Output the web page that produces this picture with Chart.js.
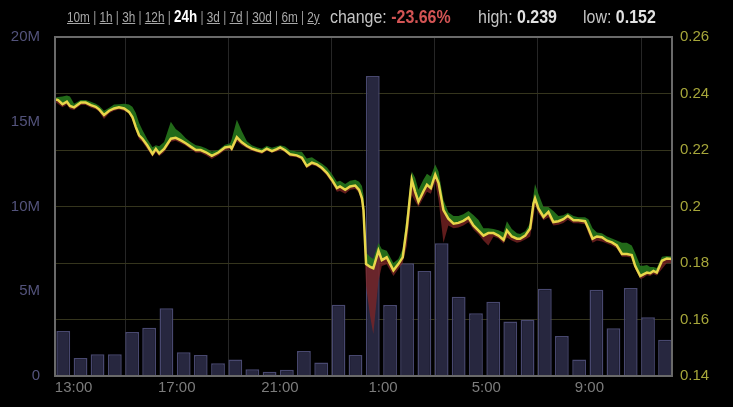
<!DOCTYPE html>
<html>
<head>
<meta charset="utf-8">
<script src="https://cdn.jsdelivr.net/npm/chart.js@4.4.0/dist/chart.umd.min.js"></script>
<style>
    html, body { margin: 0; padding: 0; background: #000; }
    #wrap { position: relative; width: 733px; height: 407px; overflow: hidden; }
    #price_chart { position: absolute; left: 0; top: 0; }
    .head { position: absolute; white-space: nowrap; font-family: 'Liberation Sans', Arial, sans-serif; color: #c4c4c4; transform-origin: 0 0; }
    .ranges { top: 10px; font-size: 14px; line-height: 14px; color: #9a9a9a; transform: scaleX(0.84); }
    .ranges a { color: #a8a8a8; text-decoration: underline; }
    .ranges b { color: #fff; font-size: 16px; }
    .stat { top: 6px; font-size: 19px; line-height: 21px; transform: scaleX(0.84); }
    .stat b { color: #e2e2e2; }
    .stat b.neg { color: #d35454; }
</style>
</head>
<body>
<div id="wrap">
    <canvas id="price_chart" width="733" height="407"></canvas>
    <div class="head ranges" style="left:67px"><a>10m</a> | <a>1h</a> | <a>3h</a> | <a>12h</a> | <b>24h</b> | <a>3d</a> | <a>7d</a> | <a>30d</a> | <a>6m</a> | <a>2y</a></div>
    <div class="head stat" style="left:330px">change: <b class="neg">-23.66%</b></div>
    <div class="head stat" style="left:478px">high: <b>0.239</b></div>
    <div class="head stat" style="left:583px">low: <b>0.152</b></div>
</div>
<script>
// hours since midnight of the first day (25 = 1:00 next day)
const priceTimes = [
    12.32, 12.40, 12.57, 12.74, 12.86, 13.02, 13.28, 13.47, 13.67, 13.86,
    13.99, 14.18, 14.38, 14.57, 14.76, 14.96, 15.15, 15.28, 15.41, 15.54,
    15.67, 15.86, 16.06, 16.19, 16.32, 16.51, 16.77, 16.96, 17.16, 17.35,
    17.54, 17.74, 17.93, 18.13, 18.36, 18.61, 18.87, 19.07, 19.13, 19.33,
    19.52, 19.72, 19.91, 20.10, 20.30, 20.49, 20.69, 20.88, 21.01, 21.20,
    21.39, 21.65, 21.85, 22.04, 22.24, 22.43, 22.62, 22.82, 23.01, 23.21,
    23.33, 23.53, 23.72, 23.92, 24.07, 24.18, 24.24, 24.34, 24.50, 24.62,
    24.82, 24.95, 25.14, 25.40, 25.59, 25.76, 25.92, 26.11, 26.24, 26.37,
    26.56, 26.70, 26.85, 27.02, 27.15, 27.34, 27.53, 27.73, 27.92, 28.11,
    28.31, 28.50, 28.70, 28.89, 29.08, 29.28, 29.47, 29.67, 29.80, 29.99,
    30.19, 30.31, 30.51, 30.70, 30.83, 30.89, 31.02, 31.22, 31.41, 31.60,
    31.80, 31.99, 32.16, 32.38, 32.57, 32.83, 32.96, 33.12, 33.29, 33.48,
    33.68, 33.87, 34.06, 34.26, 34.45, 34.64, 34.77, 34.97, 35.09, 35.23,
    35.35, 35.48, 35.61, 35.81, 36.00, 36.20
];
const priceValues = [
    0.2379, 0.2377, 0.2362, 0.2371, 0.2356, 0.2351, 0.2368, 0.2368, 0.2359, 0.2353,
    0.2344, 0.2324, 0.2339, 0.2347, 0.2351, 0.2347, 0.2335, 0.2317, 0.2282, 0.2252,
    0.2240, 0.2216, 0.2186, 0.2204, 0.2188, 0.2204, 0.2240, 0.2243, 0.2234, 0.2224,
    0.2212, 0.2200, 0.2200, 0.2192, 0.2179, 0.2191, 0.2209, 0.2212, 0.2205, 0.2245,
    0.2227, 0.2214, 0.2205, 0.2199, 0.2194, 0.2205, 0.2196, 0.2203, 0.2209, 0.2199,
    0.2185, 0.2181, 0.2173, 0.2143, 0.2155, 0.2149, 0.2137, 0.2119, 0.2095, 0.2065,
    0.2071, 0.2059, 0.2071, 0.2074, 0.2059, 0.2029, 0.1987, 0.1796, 0.1786, 0.1781,
    0.1844, 0.1810, 0.1820, 0.1774, 0.1796, 0.1820, 0.1927, 0.2095, 0.2053, 0.2017,
    0.2053, 0.2077, 0.2065, 0.2113, 0.2083, 0.1987, 0.1957, 0.1939, 0.1942, 0.1949,
    0.1961, 0.1933, 0.1915, 0.1897, 0.1906, 0.1906, 0.1897, 0.1882, 0.1915, 0.1894,
    0.1886, 0.1886, 0.1897, 0.1922, 0.2011, 0.2029, 0.1993, 0.1963, 0.1981, 0.1945,
    0.1948, 0.1955, 0.1967, 0.1951, 0.1951, 0.1948, 0.1922, 0.1886, 0.1894, 0.1891,
    0.1879, 0.1873, 0.1862, 0.1832, 0.1832, 0.1828, 0.1790, 0.1754, 0.1760, 0.1766,
    0.1764, 0.1772, 0.1766, 0.1808, 0.1816, 0.1814
];
const highValues = [
    0.2386, 0.2388, 0.2389, 0.2393, 0.2389, 0.2364, 0.2377, 0.2377, 0.2371, 0.2364,
    0.2357, 0.2339, 0.2350, 0.2361, 0.2362, 0.2364, 0.2361, 0.2353, 0.2332, 0.2296,
    0.2271, 0.2238, 0.2210, 0.2217, 0.2213, 0.2228, 0.2300, 0.2274, 0.2260, 0.2242,
    0.2228, 0.2217, 0.2213, 0.2206, 0.2195, 0.2200, 0.2219, 0.2224, 0.2238, 0.2307,
    0.2267, 0.2231, 0.2217, 0.2210, 0.2204, 0.2215, 0.2208, 0.2213, 0.2217, 0.2212,
    0.2199, 0.2195, 0.2194, 0.2170, 0.2174, 0.2163, 0.2152, 0.2138, 0.2116, 0.2088,
    0.2091, 0.2080, 0.2091, 0.2095, 0.2088, 0.2073, 0.2041, 0.1836, 0.1821, 0.1814,
    0.1871, 0.1850, 0.1843, 0.1800, 0.1814, 0.1850, 0.1969, 0.2124, 0.2102, 0.2059,
    0.2095, 0.2116, 0.2106, 0.2149, 0.2124, 0.2023, 0.1980, 0.1966, 0.1966, 0.1973,
    0.1984, 0.1970, 0.1952, 0.1923, 0.1923, 0.1920, 0.1916, 0.1908, 0.1948, 0.1920,
    0.1905, 0.1903, 0.1912, 0.1941, 0.2041, 0.2080, 0.2045, 0.1998, 0.1998, 0.1984,
    0.1966, 0.1969, 0.1978, 0.1966, 0.1962, 0.1962, 0.1955, 0.1923, 0.1908, 0.1905,
    0.1894, 0.1887, 0.1880, 0.1872, 0.1872, 0.1862, 0.1836, 0.1790, 0.1790, 0.1793,
    0.1786, 0.1786, 0.1782, 0.1822, 0.1825, 0.1823
];
const lowValues = [
    0.2368, 0.2363, 0.2351, 0.2360, 0.2345, 0.2342, 0.2359, 0.2359, 0.2350, 0.2344,
    0.2335, 0.2310, 0.2330, 0.2339, 0.2343, 0.2339, 0.2328, 0.2307, 0.2271, 0.2238,
    0.2228, 0.2203, 0.2176, 0.2192, 0.2178, 0.2192, 0.2229, 0.2233, 0.2224, 0.2215,
    0.2203, 0.2190, 0.2190, 0.2181, 0.2168, 0.2181, 0.2199, 0.2203, 0.2195, 0.2231,
    0.2217, 0.2206, 0.2197, 0.2192, 0.2186, 0.2197, 0.2190, 0.2195, 0.2201, 0.2192,
    0.2177, 0.2174, 0.2165, 0.2135, 0.2147, 0.2142, 0.2129, 0.2109, 0.2084, 0.2052,
    0.2055, 0.2045, 0.2059, 0.2062, 0.2048, 0.2012, 0.1933, 0.1718, 0.1610, 0.1549,
    0.1736, 0.1789, 0.1796, 0.1754, 0.1779, 0.1800, 0.1861, 0.2041, 0.2019, 0.1998,
    0.2030, 0.2052, 0.2045, 0.2088, 0.2023, 0.1872, 0.1933, 0.1923, 0.1926, 0.1933,
    0.1944, 0.1919, 0.1901, 0.1880, 0.1862, 0.1894, 0.1887, 0.1869, 0.1890, 0.1880,
    0.1872, 0.1874, 0.1883, 0.1894, 0.1958, 0.2005, 0.1976, 0.1951, 0.1962, 0.1933,
    0.1935, 0.1942, 0.1953, 0.1941, 0.1941, 0.1937, 0.1904, 0.1872, 0.1880, 0.1876,
    0.1869, 0.1862, 0.1851, 0.1822, 0.1822, 0.1819, 0.1779, 0.1743, 0.1747, 0.1757,
    0.1754, 0.1761, 0.1756, 0.1779, 0.1800, 0.1800
];
const volumeTimes = [
    12.60, 13.27, 13.93, 14.60, 15.27, 15.93, 16.60, 17.27, 17.93, 18.60,
    19.27, 19.93, 20.60, 21.27, 21.93, 22.60, 23.27, 23.93, 24.60, 25.27,
    25.93, 26.60, 27.27, 27.93, 28.60, 29.27, 29.93, 30.60, 31.27, 31.93,
    32.60, 33.27, 33.93, 34.60, 35.27, 35.93
];
// millions
const volumeValues = [
    2.65, 1.06, 1.28, 1.28, 2.60, 2.85, 4.00, 1.40, 1.24, 0.75,
    0.98, 0.40, 0.25, 0.37, 1.47, 0.80, 4.20, 1.24, 17.70, 4.19,
    6.65, 6.20, 7.83, 4.68, 3.70, 4.38, 3.22, 3.34, 5.15, 2.36,
    0.98, 5.09, 2.81, 5.19, 3.46, 2.14
];
const timeTicks = [13, 17, 21, 25, 29, 33];
const timeRange = [12.28, 36.2];
const volumeRange = [0, 20];
const priceRange = [0.14, 0.26];

function toPoints(xs, ys) {
    return xs.map(function (x, i) {
        return { x: x, y: ys[i] };
    });
}

const boxPlugin = {
    id: 'box',
    afterDraw: function (chart) {
        const a = chart.chartArea;
        const ctx = chart.ctx;
        ctx.save();
        ctx.strokeStyle = '#6a6a6a';
        ctx.lineWidth = 2;
        ctx.strokeRect(a.left, a.top, a.right - a.left, a.bottom - a.top);
        ctx.restore();
    }
};

const font = { family: "'Liberation Sans', Arial, sans-serif", size: 15 };

new Chart(document.getElementById('price_chart'), {
    type: 'line',
    data: {
        datasets: [
            {
                label: 'price',
                data: toPoints(priceTimes, priceValues),
                yAxisID: 'y1',
                borderColor: '#e8d64a',
                borderWidth: 2.5,
                pointRadius: 0,
                tension: 0,
                fill: false,
                order: 1
            },
            {
                label: 'high',
                data: toPoints(priceTimes, highValues),
                yAxisID: 'y1',
                borderWidth: 0,
                pointRadius: 0,
                backgroundColor: 'rgba(38,118,28,0.9)',
                fill: '-1',
                order: 2
            },
            {
                label: 'low',
                data: toPoints(priceTimes, lowValues),
                yAxisID: 'y1',
                borderWidth: 0,
                pointRadius: 0,
                backgroundColor: 'rgba(128,38,38,0.75)',
                fill: '-2',
                order: 2
            },
            {
                type: 'bar',
                label: 'volume',
                data: toPoints(volumeTimes, volumeValues),
                yAxisID: 'y',
                backgroundColor: '#27273f',
                borderColor: '#48486f',
                borderWidth: 1.5,
                barPercentage: 0.9,
                categoryPercentage: 0.9,
                order: 3
            }
        ]
    },
    options: {
        responsive: false,
        animation: false,
        layout: { padding: { top: 37 } },
        plugins: {
            legend: { display: false },
            tooltip: { enabled: false }
        },
        scales: {
            x: {
                type: 'linear',
                min: timeRange[0],
                max: timeRange[1],
                offset: false,
                afterBuildTicks: function (scale) {
                    scale.ticks = timeTicks.map(function (v) { return { value: v }; });
                },
                afterFit: function (scale) { scale.height = 31; },
                grid: { color: '#262626', drawTicks: false },
                border: { display: false },
                ticks: {
                    color: '#7c7c7c',
                    font: font,
                    padding: 3,
                    maxRotation: 0,
                    callback: function (v) { return (v % 24) + ':00'; }
                }
            },
            y: {
                position: 'left',
                min: volumeRange[0],
                max: volumeRange[1],
                afterFit: function (scale) { scale.width = 55; },
                grid: { display: false },
                border: { display: false },
                ticks: {
                    stepSize: 5,
                    color: '#53537c',
                    font: font,
                    padding: 7,
                    callback: function (v) { return v === 0 ? '0' : v + 'M'; }
                }
            },
            y1: {
                position: 'right',
                min: priceRange[0],
                max: priceRange[1],
                afterFit: function (scale) { scale.width = 61; },
                grid: { color: '#35351d', drawTicks: false },
                border: { display: false },
                ticks: {
                    stepSize: 0.02,
                    color: '#a6a63a',
                    font: font,
                    padding: 8,
                    callback: function (v) { return parseFloat(v.toFixed(2)).toString(); }
                }
            }
        }
    },
    plugins: [boxPlugin]
});
</script>
</body>
</html>
